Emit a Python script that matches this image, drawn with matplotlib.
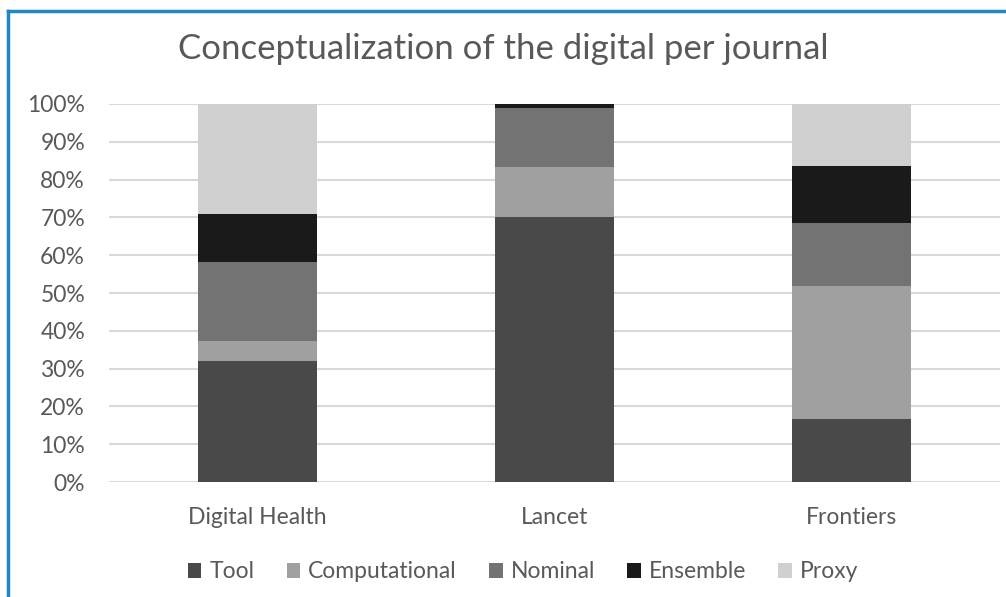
import numpy as np
import matplotlib.pyplot as plt
from matplotlib.lines import Line2D

plt.rcParams['font.family'] = ['Lato', 'DejaVu Sans']

journals = ['Digital Health', 'Lancet', 'Frontiers']
series = ['Tool', 'Computational', 'Nominal', 'Ensemble', 'Proxy']
tool = [31.9, 70.2, 16.6]
computational = [5.4, 13.2, 35.3]
nominal = [20.8, 15.6, 16.5]
ensemble = [12.8, 1.0, 15.1]
proxy = [29.1, 0.0, 16.5]
colors = ['#494949', '#a0a0a0', '#737373', '#1a1a1a', '#d0d0d0']

fig = plt.figure(figsize=(10.06, 5.97), dpi=100)
ax = fig.add_axes([0.108, 0.1926, 0.886, 0.6332])

x = np.arange(len(journals))
bottom = np.zeros(len(journals))
for name, vals, c in zip(series, [tool, computational, nominal, ensemble, proxy], colors):
    ax.bar(x, vals, 0.4, bottom=bottom, color=c, label=name, zorder=3)
    bottom += np.array(vals)

ax.set_xlim(-0.5, 2.5)
ax.set_ylim(0, 100)
ax.set_yticks(np.arange(0, 101, 10))
ax.set_yticklabels([f'{v}%' for v in range(0, 101, 10)])
ax.set_xticks(x)
ax.set_xticklabels(journals)
ax.yaxis.grid(True, color='#d9d9d9', linewidth=1.5, zorder=0)
for s in ax.spines.values():
    s.set_visible(False)
ax.tick_params(axis='both', length=0, labelsize=16.5, labelcolor='#595959')
ax.tick_params(axis='y', pad=17)
ax.tick_params(axis='x', pad=18)

fig.text(0.5, 0.918, 'Conceptualization of the digital per journal', ha='center', va='center',
         fontsize=25, color='#595959')

leg = fig.legend(loc='center', bbox_to_anchor=(0.52, 0.042), ncol=5, frameon=False,
                 fontsize=16.5, handlelength=0.6, handleheight=0.6, handletextpad=0.35,
                 columnspacing=1.4)
for t in leg.get_texts():
    t.set_color('#595959')

# blue frame at top and left
fig.add_artist(Line2D([0.008, 1.0], [0.982, 0.982], color='#1f88c4', lw=2.5, transform=fig.transFigure))
fig.add_artist(Line2D([0.008, 0.008], [0.0, 0.982], color='#1f88c4', lw=2.5, transform=fig.transFigure))

fig.savefig('out.png', dpi=100)
